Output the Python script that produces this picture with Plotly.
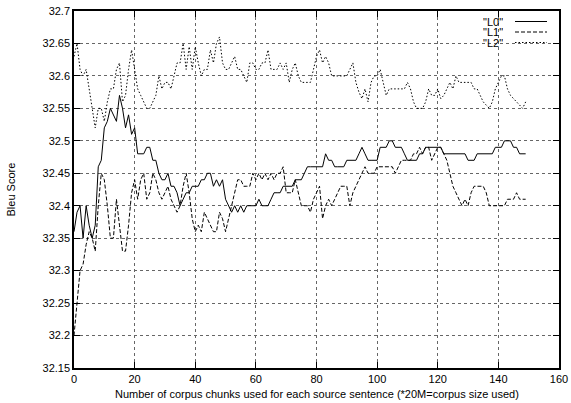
import plotly.graph_objects as go

x_chunks = list(range(0, 150))

l0_scores = [
    32.36, 32.39, 32.40, 32.35, 32.40, 32.37, 32.35, 32.37, 32.46, 32.47,
    32.52, 32.53, 32.55, 32.54, 32.53, 32.57, 32.55, 32.52, 32.54, 32.51,
    32.52, 32.48, 32.48, 32.48, 32.49, 32.49, 32.47, 32.47, 32.45, 32.44,
    32.44, 32.45, 32.43, 32.43, 32.42, 32.40, 32.41, 32.42, 32.42, 32.43,
    32.43, 32.43, 32.44, 32.44, 32.45, 32.45, 32.43, 32.44, 32.43, 32.44,
    32.41, 32.40, 32.39, 32.40, 32.39, 32.40, 32.39, 32.40, 32.40, 32.40,
    32.40, 32.41, 32.40, 32.40, 32.40, 32.41, 32.42, 32.42, 32.42, 32.43,
    32.43, 32.43, 32.43, 32.44, 32.44, 32.44, 32.45, 32.46, 32.46, 32.46,
    32.46, 32.46, 32.46, 32.48, 32.47, 32.47, 32.46, 32.46, 32.46, 32.46,
    32.47, 32.47, 32.47, 32.47, 32.48, 32.49, 32.48, 32.47, 32.47, 32.47,
    32.47, 32.49, 32.49, 32.49, 32.50, 32.50, 32.49, 32.49, 32.49, 32.48,
    32.47, 32.47, 32.47, 32.47, 32.48, 32.48, 32.49, 32.49, 32.49, 32.49,
    32.49, 32.49, 32.48, 32.48, 32.48, 32.48, 32.48, 32.48, 32.48, 32.48,
    32.47, 32.47, 32.47, 32.48, 32.48, 32.48, 32.48, 32.48, 32.48, 32.49,
    32.49, 32.49, 32.50, 32.50, 32.50, 32.49, 32.49, 32.48, 32.48, 32.48,
]

l1_scores = [
    32.20, 32.25, 32.30, 32.31, 32.34, 32.36, 32.35, 32.33, 32.40, 32.45,
    32.44, 32.40, 32.35, 32.35, 32.41, 32.37, 32.33, 32.33, 32.37, 32.42,
    32.44, 32.41, 32.44, 32.45, 32.41, 32.42, 32.45, 32.44, 32.42, 32.41,
    32.42, 32.43, 32.41, 32.40, 32.39, 32.40, 32.43, 32.45, 32.42, 32.38,
    32.36, 32.37, 32.36, 32.39, 32.38, 32.37, 32.36, 32.36, 32.39, 32.38,
    32.36, 32.38, 32.40, 32.42, 32.44, 32.44, 32.43, 32.43, 32.43, 32.45,
    32.44, 32.45, 32.44, 32.45, 32.44, 32.45, 32.44, 32.45, 32.45, 32.46,
    32.42, 32.42, 32.42, 32.44, 32.42, 32.40, 32.40, 32.40, 32.39, 32.41,
    32.42, 32.43, 32.38, 32.40, 32.41, 32.40, 32.41, 32.42, 32.43, 32.43,
    32.43, 32.40, 32.42, 32.43, 32.44, 32.45, 32.46, 32.45, 32.45, 32.45,
    32.46, 32.46, 32.46, 32.46, 32.46, 32.46, 32.45, 32.46, 32.47, 32.47,
    32.47, 32.47, 32.48, 32.48, 32.49, 32.48, 32.49, 32.49, 32.47, 32.48,
    32.49, 32.49, 32.48, 32.47, 32.45, 32.43, 32.42, 32.41, 32.40, 32.41,
    32.40, 32.42, 32.43, 32.43, 32.43, 32.43, 32.42, 32.40, 32.40, 32.40,
    32.40, 32.40, 32.40, 32.41, 32.41, 32.41, 32.42, 32.41, 32.41, 32.41,
]

l2_scores = [
    32.63, 32.65, 32.61, 32.60, 32.61, 32.58, 32.55, 32.52, 32.55, 32.55,
    32.53, 32.56, 32.58, 32.58, 32.61, 32.62, 32.56, 32.57, 32.61, 32.64,
    32.61, 32.58, 32.57, 32.56, 32.55, 32.55, 32.56, 32.57, 32.60, 32.58,
    32.59, 32.59, 32.58, 32.60, 32.62, 32.62, 32.65, 32.61, 32.645, 32.61,
    32.645, 32.62, 32.60, 32.61, 32.61, 32.64, 32.62, 32.65, 32.66, 32.62,
    32.61, 32.61, 32.62, 32.63, 32.61, 32.61, 32.60, 32.59, 32.62, 32.62,
    32.61, 32.61, 32.62, 32.62, 32.64, 32.61, 32.61, 32.61, 32.62, 32.61,
    32.62, 32.59, 32.61, 32.62, 32.60, 32.59, 32.59, 32.59, 32.59, 32.61,
    32.63, 32.64, 32.62, 32.63, 32.62, 32.60, 32.60, 32.60, 32.60, 32.60,
    32.60, 32.61, 32.62, 32.59, 32.575, 32.565, 32.58, 32.56, 32.59, 32.60,
    32.60, 32.61, 32.59, 32.57, 32.58, 32.58, 32.58, 32.58, 32.58, 32.58,
    32.59, 32.58, 32.56, 32.55, 32.55, 32.55, 32.56, 32.58, 32.57, 32.57,
    32.58, 32.565, 32.57, 32.58, 32.59, 32.58, 32.60, 32.59, 32.59, 32.59,
    32.59, 32.59, 32.58, 32.58, 32.57, 32.56, 32.555, 32.55, 32.56, 32.58,
    32.59, 32.60, 32.60, 32.58, 32.57, 32.565, 32.56, 32.555, 32.55, 32.56,
]

series_names = ['"L0"', '"L1"', '"L2"']

x_ticks = [0, 20, 40, 60, 80, 100, 120, 140, 160]
y_ticks = [32.15, 32.2, 32.25, 32.3, 32.35, 32.4, 32.45, 32.5, 32.55, 32.6, 32.65, 32.7]
y_tick_labels = ["32.15", "32.2", "32.25", "32.3", "32.35", "32.4", "32.45",
                 "32.5", "32.55", "32.6", "32.65", "32.7"]

FONT = "Liberation Sans, Arial, sans-serif"
dashes = ["solid", "4px,2px", "1.5px,2px"]

fig = go.Figure()
for name, ys, d in zip(series_names, [l0_scores, l1_scores, l2_scores], dashes):
    fig.add_trace(go.Scatter(x=x_chunks, y=ys, mode="lines", name=name,
                             line=dict(color="black", width=1, dash=d),
                             showlegend=False, hoverinfo="skip"))

axis_common = dict(
    showline=True, linecolor="black", linewidth=1.5, mirror="allticks",
    ticks="inside", ticklen=6, tickcolor="black", tickwidth=1,
    showgrid=True, gridcolor="#666", gridwidth=1, griddash="dot",
    zeroline=False, automargin=False,
    tickfont=dict(family=FONT, size=11, color="black"),
)

W, H = 571, 403
ML, MR, MT, MB = 74, 12, 11, 35
fig.update_layout(
    width=W, height=H,
    margin=dict(l=ML, r=MR, t=MT, b=MB, autoexpand=False),
    paper_bgcolor="white", plot_bgcolor="white",
    font=dict(family=FONT, size=11, color="black"),
    xaxis=dict(range=[0, 160], tickvals=x_ticks, **axis_common),
    yaxis=dict(range=[32.15, 32.7], tickvals=y_ticks, ticktext=y_tick_labels, **axis_common),
)

# axis titles
fig.add_annotation(text="Number of corpus chunks used for each source sentence (*20M=corpus size used)",
                   xref="paper", yref="paper", x=0.5, y=0, yshift=-26, xanchor="center",
                   yanchor="middle", showarrow=False, font=dict(family=FONT, size=11, color="black"))
fig.add_annotation(text="Bleu Score", xref="paper", yref="paper", x=0, xshift=-64, y=0.5,
                   xanchor="center", yanchor="middle",
                   textangle=-90, showarrow=False, font=dict(family=FONT, size=11, color="black"))

# gnuplot-style legend: label on the left, sample line on the right
legend_rows = [21.5, 32, 42.5]
plot_h = H - MT - MB
plot_w = W - ML - MR
for name, d, py in zip(series_names, dashes, legend_rows):
    yp = 1 - (py - MT) / plot_h
    fig.add_annotation(text=name, xref="paper", yref="paper", x=(504 - ML) / plot_w, y=yp,
                       xanchor="right", yanchor="middle", showarrow=False,
                       height=10, borderpad=0, valign="middle",
                       font=dict(family=FONT, size=11, color="black"))
    fig.add_shape(type="line", xref="paper", yref="paper",
                  x0=(515 - ML) / plot_w, x1=(547 - ML) / plot_w, y0=yp, y1=yp,
                  line=dict(color="black", width=1, dash=d))

fig.write_html("out.html", config={"displayModeBar": False},
               post_script="document.body.style.margin='0';document.body.style.overflow='hidden';")
